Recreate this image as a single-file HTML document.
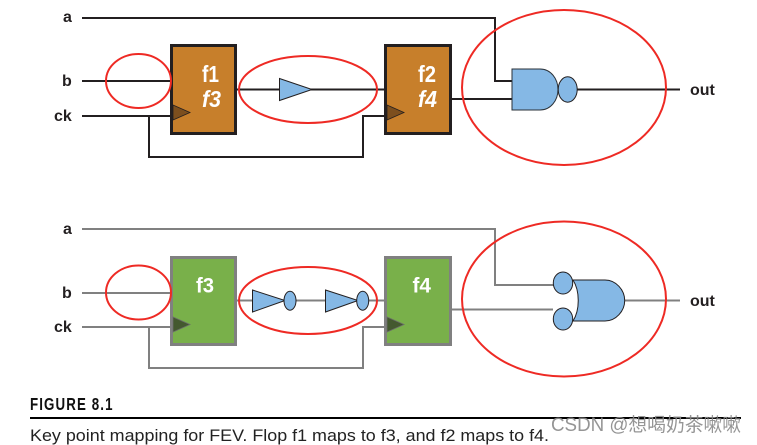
<!DOCTYPE html>
<html><head><meta charset="utf-8"><style>
html,body{margin:0;padding:0;background:#fff;width:757px;height:445px;overflow:hidden}
svg{display:block}
text{font-family:"Liberation Sans",sans-serif}
.l{font-size:16px;font-weight:bold;fill:#231f20}
.f{font-size:23px;font-weight:bold;fill:#fff}
.g{font-size:21px;font-weight:bold;fill:#fff}
</style></head><body>
<svg width="757" height="445" viewBox="0 0 757 445" xmlns="http://www.w3.org/2000/svg">
<!-- top -->
<g fill="none" stroke="#231f20" stroke-width="2">
<path d="M82 18H495V81H512"/>
<path d="M82 81H171"/>
<path d="M82 116H171"/>
<path d="M149 116V157H363V116H385"/>
<path d="M237 89.5H384"/>
<path d="M452 99H512"/>
<path d="M577 89.5H680"/>
</g>
<rect x="171.5" y="45.5" width="64" height="88" fill="#c77f2b" stroke="#231f20" stroke-width="3"/>
<rect x="385.5" y="45.5" width="65" height="88" fill="#c77f2b" stroke="#231f20" stroke-width="3"/>
<path d="M173 105L190 112.5L173 120Z" fill="#7d4f1e" stroke="#231f20" stroke-width="0.8"/>
<path d="M387 105L404 112.5L387 120Z" fill="#7d4f1e" stroke="#231f20" stroke-width="0.8"/>
<text class="f" x="202" y="82" textLength="17" lengthAdjust="spacingAndGlyphs">f1</text>
<text class="f" x="202" y="107" textLength="19" lengthAdjust="spacingAndGlyphs" font-style="italic">f3</text>
<text class="f" x="418" y="82" textLength="18" lengthAdjust="spacingAndGlyphs">f2</text>
<text class="f" x="418" y="107" textLength="19" lengthAdjust="spacingAndGlyphs" font-style="italic">f4</text>
<path d="M279.5 78.5L312 89.5L279.5 100.5Z" fill="#85b8e5" stroke="#231f20" stroke-width="1"/>
<path d="M512 69H540C551 69 558 79 558 89.5C558 100 551 110 540 110H512Z" fill="#85b8e5" stroke="#2a3138" stroke-width="1"/>
<ellipse cx="567.7" cy="89.5" rx="9.5" ry="12.7" fill="#85b8e5" stroke="#231f20" stroke-width="1"/>
<!-- bottom -->
<g fill="none" stroke="#808080" stroke-width="2">
<path d="M82 229H495V285H553"/>
<path d="M82 293H171"/>
<path d="M82 327H171"/>
<path d="M149 327V368H363V327H385"/>
<path d="M237 300.5H384"/>
<path d="M452 309.5H553"/>
<path d="M625 300.5H680"/>
</g>
<rect x="171.5" y="257.5" width="64" height="87" fill="#79b04a" stroke="#808080" stroke-width="3"/>
<rect x="385.5" y="257.5" width="65" height="87" fill="#79b04a" stroke="#808080" stroke-width="3"/>
<path d="M173 317L190 324.5L173 332Z" fill="#44592f" stroke="#6b6b6b" stroke-width="0.8"/>
<path d="M387 317L404 324.5L387 332Z" fill="#44592f" stroke="#6b6b6b" stroke-width="0.8"/>
<text class="g" x="196" y="292.5" textLength="18" lengthAdjust="spacingAndGlyphs">f3</text>
<text class="g" x="412.5" y="292.5" textLength="18.5" lengthAdjust="spacingAndGlyphs">f4</text>
<path d="M252.5 290L285 300.5L252.5 312Z" fill="#85b8e5" stroke="#231f20" stroke-width="1"/>
<ellipse cx="290" cy="300.7" rx="6" ry="9.5" fill="#85b8e5" stroke="#231f20" stroke-width="1"/>
<path d="M325.5 290L358 300.5L325.5 312Z" fill="#85b8e5" stroke="#231f20" stroke-width="1"/>
<ellipse cx="362.7" cy="300.7" rx="6" ry="9.5" fill="#85b8e5" stroke="#231f20" stroke-width="1"/>
<path d="M573 280H605C616 280 624.7 290 624.7 300.5C624.7 311 616 321 605 321H573C580 310 580 291 573 280Z" fill="#85b8e5" stroke="#231f20" stroke-width="1"/>
<ellipse cx="563" cy="283" rx="9.7" ry="11" fill="#85b8e5" stroke="#231f20" stroke-width="1"/>
<ellipse cx="563" cy="319" rx="9.7" ry="11" fill="#85b8e5" stroke="#231f20" stroke-width="1"/>
<!-- labels -->
<text class="l" x="63" y="22">a</text>
<text class="l" x="62" y="86">b</text>
<text class="l" x="54" y="121">ck</text>
<text class="l" x="690" y="95">out</text>
<text class="l" x="63" y="234">a</text>
<text class="l" x="62" y="298">b</text>
<text class="l" x="54" y="332">ck</text>
<text class="l" x="690" y="306">out</text>
<!-- red ellipses -->
<g fill="none" stroke="#ee2a24" stroke-width="2">
<ellipse cx="138.5" cy="81" rx="32.5" ry="27"/>
<ellipse cx="308" cy="89.5" rx="69" ry="33.5"/>
<ellipse cx="564" cy="87.5" rx="102" ry="77.5"/>
<ellipse cx="138.5" cy="292.5" rx="32.5" ry="27"/>
<ellipse cx="308" cy="300.5" rx="69" ry="33.5"/>
<ellipse cx="564" cy="299" rx="102" ry="77.5"/>
</g>
<!-- caption -->
<text transform="translate(30 410) scale(.74 1)" font-size="18" font-weight="bold" fill="#111" letter-spacing="1.5">FIGURE 8.1</text>
<rect x="30" y="417" width="711" height="2" fill="#000"/>
<text x="30" y="441" font-size="17" fill="#222" textLength="519" lengthAdjust="spacingAndGlyphs">Key point mapping for FEV. Flop f1 maps to f3, and f2 maps to f4.</text>
<text x="551" y="431" font-size="19" fill="#8a8a8a" fill-opacity="0.9" textLength="190" lengthAdjust="spacingAndGlyphs" style="font-family:'Liberation Sans','Noto Sans CJK SC',sans-serif">CSDN @想喝奶茶嗽嗽</text>
</svg>
</body></html>
